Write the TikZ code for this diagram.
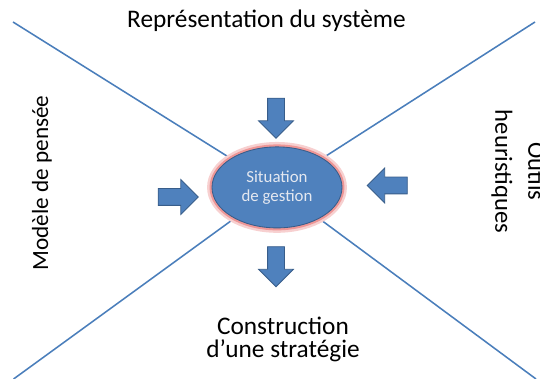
\documentclass[tikz,border=0pt]{standalone}
\usepackage{fontspec}
\setmainfont{Carlito}
\usepackage{tikz}
\usetikzlibrary{shapes,arrows,backgrounds,positioning}

\definecolor{OfficeBlue}{RGB}{79,129,189}
\definecolor{OfficeDark}{RGB}{56,93,138}
\definecolor{AxisBlue}{RGB}{74,126,187}
\definecolor{GlowRed}{RGB}{238,150,150}
\definecolor{PaleText}{RGB}{228,232,240}

\begin{document}
\begin{tikzpicture}
				\tikzstyle{Axis}	= [AxisBlue, line width=1.1pt]
				\tikzstyle{Hub}		= [ellipse, fill=OfficeBlue, draw=OfficeDark, line width=0.6pt, minimum width=3.25cm, minimum height=2.025cm, inner sep=0pt, preaction={draw=GlowRed!45, line width=7pt}, preaction={draw=GlowRed, line width=3.5pt}, text=PaleText, align=center, font=\fontsize{12}{13.5}\selectfont]
				\tikzstyle{Push}	= [single arrow, fill=OfficeBlue, draw=OfficeDark, line width=0.6pt, minimum height=1.0cm, inner xsep=0pt, inner ysep=0.2cm, single arrow head extend=0.225cm]
				\tikzstyle{Label}	= [inner sep=0pt, align=center, font=\fontsize{18}{16.5}\selectfont]

				\useasboundingbox (0, 0) rectangle (13.5, 9.475);

				\coordinate (nw) at (0.325, 8.925);
				\coordinate (ne) at (13.375, 8.925);
				\coordinate (sw) at (0.34, 0);
				\coordinate (se) at (13.4, 0);

				\node (gest) at (6.925, 4.79) [Hub] {Situation\\de gestion};

				\node (up) at (6.9, 6.625) [Push, rotate=-90] {};
				\node (down) at (6.9, 2.9125) [Push, rotate=-90] {};
				\node (west) at (4.35, 4.55) [Push] {};
				\node (east) at (9.7875, 4.8375) [Push, rotate=180] {};

				\node (sys) at (6.6625, 8.775) [Label, anchor=base] {Représentation du système};
				\node (pens) at (1.2, 4.9) [Label, anchor=base, rotate=90, font=\fontsize{16.5}{16.5}\selectfont] {Modèle de pensée};
				\node (outils) at (12.28, 5.1875) [Label, anchor=south, rotate=-90, font=\fontsize{17.5}{16.5}\selectfont] {Outils\\[7pt]heuristiques};
				\node (strat) at (7.075, 0.425) [Label, anchor=south] {Construction\\d’une stratégie};

				\begin{pgfonlayer}{background}
					\draw [Axis] (nw) to (gest.center);
					\draw [Axis] (ne) to (gest.center);
					\draw [Axis] (sw) to (gest.center);
					\draw [Axis] (se) to (gest.center);
				\end{pgfonlayer}
\end{tikzpicture}
\end{document}
